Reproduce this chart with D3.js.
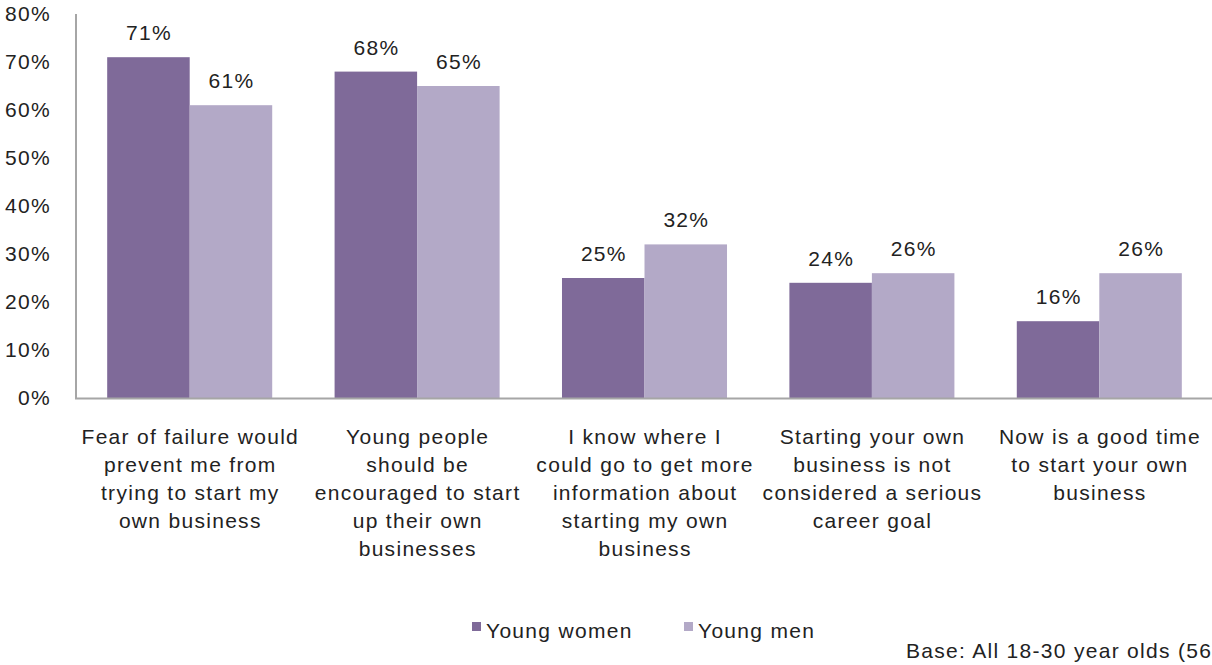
<!DOCTYPE html>
<html>
<head>
<meta charset="utf-8">
<script src="https://cdn.jsdelivr.net/npm/d3@7"></script>
<style>
  html, body { margin: 0; padding: 0; background: #fff; }
  svg { display: block; font-family: "Liberation Sans", Arial, sans-serif; letter-spacing: 1.3px; }
  text { fill: #222; }
</style>
</head>
<body>
<svg id="chart" width="1212" height="665"></svg>
<script>
// Survey categories (wrapped label lines)
const categories = [
  ["Fear of failure would", "prevent me from", "trying to start my", "own business"],
  ["Young people", "should be", "encouraged to start", "up their own", "businesses"],
  ["I know where I", "could go to get more", "information about", "starting my own", "business"],
  ["Starting your own", "business is not", "considered a serious", "career goal"],
  ["Now is a good time", "to start your own", "business"]
];
const seriesNames = ["Young women", "Young men"];
const youngWomen = [71, 68, 25, 24, 16];
const youngMen = [61, 65, 32, 26, 26];
const yTicks = [0, 10, 20, 30, 40, 50, 60, 70, 80];
const colors = ["#7f6a99", "#b3a9c7"];
const footnote = "Base: All 18-30 year olds (565)";

const FONT = 21;
const svg = d3.select("#chart");
const plotLeft = 76, plotRight = 1213, plotTop = 14, plotBottom = 398;

const catIdx = categories.map((_, i) => i);
const x0 = d3.scaleBand().domain(catIdx).range([plotLeft, plotRight]).padding(0);
const x1 = d3.scaleBand().domain(seriesNames).range([0, x0.bandwidth()])
  .paddingInner(0).paddingOuter(0.378);
const y = d3.scaleLinear().domain([0, 80]).range([plotBottom, plotTop]);

// bars with value labels
const rows = catIdx.map(i => ({ i, vals: [youngWomen[i], youngMen[i]] }));
const g = svg.append("g");
rows.forEach(r => {
  r.vals.forEach((v, k) => {
    const xx = x0(r.i) + x1(seriesNames[k]);
    g.append("rect")
      .attr("x", xx).attr("width", x1.bandwidth())
      .attr("y", y(v)).attr("height", y(0) - y(v))
      .attr("fill", colors[k]);
    g.append("text")
      .attr("x", xx + x1.bandwidth() / 2 + 0.6).attr("y", y(v) - 17)
      .attr("text-anchor", "middle").attr("font-size", FONT)
      .text(v + "%");
  });
});

// y axis labels
const yAxis = d3.axisLeft(y).tickValues(yTicks).tickFormat(d => d + "%").tickSize(0).tickPadding(25);
const ya = svg.append("g").attr("transform", `translate(${plotLeft},0)`).call(yAxis);
ya.attr("font-family", null).attr("font-size", null);
ya.select(".domain").remove();
ya.selectAll("text").attr("font-size", FONT).attr("fill", "#222");

// axis lines
svg.append("line").attr("x1", plotLeft).attr("x2", plotLeft).attr("y1", plotTop).attr("y2", plotBottom + 1)
  .attr("stroke", "#a6a6a6").attr("stroke-width", 2);
svg.append("line").attr("x1", plotLeft - 1).attr("x2", 1212).attr("y1", plotBottom + 0.5).attr("y2", plotBottom + 0.5)
  .attr("stroke", "#a6a6a6").attr("stroke-width", 2);

// category labels
catIdx.forEach(i => {
  const cx = x0(i) + x0.bandwidth() / 2 + 0.6;
  const t = svg.append("text")
    .attr("x", cx).attr("y", 444)
    .attr("text-anchor", "middle").attr("font-size", FONT);
  categories[i].forEach((line, j) => {
    t.append("tspan").attr("x", cx).attr("dy", j === 0 ? 0 : 28).text(line);
  });
});

// legend
const legendX = [472, 684];
seriesNames.forEach((s, k) => {
  svg.append("rect").attr("x", legendX[k]).attr("y", 622).attr("width", 9).attr("height", 9).attr("fill", colors[k]);
  svg.append("text").attr("x", legendX[k] + 14).attr("y", 638).attr("font-size", FONT).text(s);
});

svg.append("text").attr("x", 906).attr("y", 658).attr("font-size", FONT).text(footnote);
</script>
</body>
</html>
